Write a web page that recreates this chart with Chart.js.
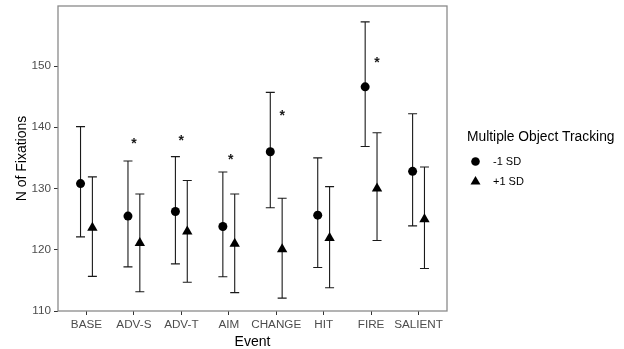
<!DOCTYPE html>
<html>
<head>
<meta charset="utf-8">
<script src="https://cdn.jsdelivr.net/npm/chart.js@4/dist/chart.umd.min.js"></script>
<style>
  html, body { margin: 0; padding: 0; background: #fff; }
  #wrap { width: 624px; height: 349px; position: relative; }
</style>
</head>
<body>
<div id="wrap"><canvas id="chart"></canvas></div>
<script>
const FONT = '"Liberation Sans", Arial, sans-serif';

// data
const categories = ['BASE', 'ADV-S', 'ADV-T', 'AIM', 'CHANGE', 'HIT', 'FIRE', 'SALIENT'];
const lowMean  = [130.8, 125.5, 126.25, 123.8, 136.0, 125.65, 146.6, 132.8];
const lowUpper = [140.1, 134.5, 135.2, 132.7, 145.7, 135.0, 157.2, 142.2];
const lowLower = [122.1, 117.2, 117.7, 115.6, 126.85, 117.1, 136.85, 123.9];
const highMean  = [123.6, 121.1, 123.0, 121.0, 120.1, 121.9, 130.0, 125.0];
const highUpper = [131.9, 129.1, 131.3, 129.1, 128.4, 130.3, 139.1, 133.5];
const highLower = [115.65, 113.15, 114.7, 113.0, 112.1, 113.8, 121.5, 116.95];
const yTicks = [110, 120, 130, 140, 150];

// significance markers
const starCats = ['ADV-S', 'ADV-T', 'AIM', 'CHANGE', 'FIRE'];
const starVals = [137.7, 138.2, 135.2, 142.4, 151.0];
const starShift = [0, 0, 0.04, 0.125, 0.125];

const dodge = 0.125;

const lowPts = categories.map((c, i) => ({x: i - dodge, y: lowMean[i], lo: lowLower[i], hi: lowUpper[i]}));
const highPts = categories.map((c, i) => ({x: i + dodge, y: highMean[i], lo: highLower[i], hi: highUpper[i]}));

// error bars drawn under the points
const errorBars = {
    id: 'errorBars',
    beforeDatasetsDraw(chart) {
        const {ctx, scales: {x, y}} = chart;
        ctx.save();
        ctx.strokeStyle = '#1a1a1a';
        ctx.lineWidth = 1.1;
        chart.data.datasets.forEach(ds => {
            ds.data.forEach(p => {
                const px = x.getPixelForValue(p.x);
                const top = y.getPixelForValue(p.hi);
                const bot = y.getPixelForValue(p.lo);
                ctx.beginPath();
                ctx.moveTo(px, top); ctx.lineTo(px, bot);
                ctx.moveTo(px - 4.5, top); ctx.lineTo(px + 4.5, top);
                ctx.moveTo(px - 4.5, bot); ctx.lineTo(px + 4.5, bot);
                ctx.stroke();
            });
        });
        ctx.restore();
    },
    afterDraw(chart) {
        const {ctx, chartArea: a, scales: {x, y}} = chart;
        ctx.save();
        // panel border
        ctx.strokeStyle = '#8a8a8a';
        ctx.lineWidth = 1.3;
        ctx.strokeRect(a.left, a.top, a.right - a.left, a.bottom - a.top);

        // stars
        ctx.fillStyle = '#1a1a1a';
        ctx.font = 'bold 14px ' + FONT;
        ctx.textAlign = 'center';
        ctx.textBaseline = 'alphabetic';
        const m = ctx.measureText('*');
        const mid = (m.actualBoundingBoxAscent - m.actualBoundingBoxDescent) / 2;
        starCats.forEach((c, i) => {
            const px = x.getPixelForValue(categories.indexOf(c) + starShift[i]);
            const py = y.getPixelForValue(starVals[i]);
            ctx.fillText('*', px, py + mid);
        });

        // legend
        ctx.textAlign = 'left';
        ctx.textBaseline = 'middle';
        ctx.fillStyle = '#000';
        ctx.font = '13.8px ' + FONT;
        ctx.fillText('Multiple Object Tracking', 467, 137.5);
        ctx.font = '11px ' + FONT;
        ctx.beginPath();
        ctx.arc(475.5, 161.5, 4.3, 0, Math.PI * 2);
        ctx.fill();
        ctx.fillText('-1 SD', 493, 162);
        ctx.beginPath();
        ctx.moveTo(475.5, 176);
        ctx.lineTo(480.5, 184.5);
        ctx.lineTo(470.5, 184.5);
        ctx.closePath();
        ctx.fill();
        ctx.fillText('+1 SD', 493, 182);
        ctx.restore();
    }
};

const ctx = document.getElementById('chart');

let fixChart = new Chart(ctx, {
    type: 'scatter',
    data: {
        datasets: [
            {
                label: '-1 SD',
                data: lowPts,
                pointStyle: 'circle',
                pointRadius: 4.5,
                pointHoverRadius: 4.5,
                backgroundColor: '#000',
                borderColor: '#000',
                borderWidth: 0
            },
            {
                label: '+1 SD',
                data: highPts,
                pointStyle: 'triangle',
                pointRadius: 6,
                pointHoverRadius: 6,
                backgroundColor: '#000',
                borderColor: '#000',
                borderWidth: 0
            }
        ]
    },
    options: {
        responsive: true,
        maintainAspectRatio: false,
        animation: false,
        layout: {
            padding: {top: 6, right: 177, bottom: 0, left: 0}
        },
        plugins: {
            legend: {display: false},
            tooltip: {enabled: false}
        },
        scales: {
            x: {
                type: 'linear',
                min: -0.6,
                max: 7.6,
                afterBuildTicks: s => { s.ticks = categories.map((c, i) => ({value: i})); },
                afterFit: s => { s.height = 38; s.paddingLeft = 0; s.paddingRight = 0; },
                grid: {drawOnChartArea: false, drawTicks: true, tickLength: 4, tickColor: '#333', lineWidth: 1},
                border: {display: false},
                ticks: {
                    callback: v => categories[v],
                    color: '#4d4d4d',
                    font: {family: FONT, size: 11.7},
                    padding: 3,
                    maxRotation: 0,
                    autoSkip: false
                },
                title: {
                    display: true,
                    text: 'Event',
                    color: '#000',
                    font: {family: FONT, size: 14, lineHeight: 1},
                    padding: {top: 0, bottom: 0}
                }
            },
            y: {
                min: 110,
                max: 159.8,
                afterBuildTicks: s => { s.ticks = yTicks.map(v => ({value: v})); },
                afterFit: s => { s.width = 58; s.paddingTop = 0; s.paddingBottom = 0; },
                grid: {drawOnChartArea: false, drawTicks: true, tickLength: 4, tickColor: '#333', lineWidth: 1},
                border: {display: false},
                ticks: {
                    color: '#4d4d4d',
                    font: {family: FONT, size: 11.7},
                    padding: 3
                },
                title: {
                    display: true,
                    text: 'N of Fixations',
                    color: '#000',
                    font: {family: FONT, size: 14, lineHeight: 1},
                    padding: {top: 15, bottom: 0}
                }
            }
        }
    },
    plugins: [errorBars]
});
</script>
</body>
</html>
